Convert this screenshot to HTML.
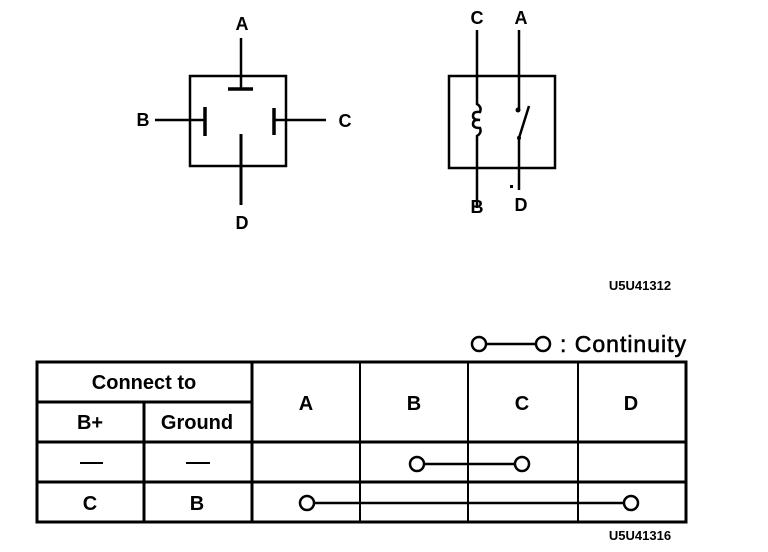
<!DOCTYPE html>
<html><head><meta charset="utf-8"><style>
html,body{margin:0;padding:0;background:#fff;width:768px;height:552px;overflow:hidden}
svg text{font-family:"Liberation Sans",Arial,sans-serif;font-weight:bold;fill:#000}
</style></head><body>
<svg width="768" height="552" viewBox="0 0 768 552" xmlns="http://www.w3.org/2000/svg">
<g stroke="#000" fill="none" stroke-width="2.5">
<rect x="190" y="76" width="96" height="90"/>
<line x1="241" y1="38" x2="241" y2="88"/>
<line x1="228" y1="89" x2="253" y2="89" stroke-width="3.5"/>
<line x1="155" y1="120" x2="205" y2="120"/>
<line x1="205" y1="107" x2="205" y2="136" stroke-width="3.5"/>
<line x1="274" y1="120" x2="326" y2="120"/>
<line x1="274" y1="108" x2="274" y2="135" stroke-width="3.5"/>
<line x1="241" y1="134" x2="241" y2="205" stroke-width="3"/>
<rect x="449" y="76" width="106" height="92"/>
<path d="M477 30 V104 q5 3 3 8 q-7 -1 -7 4 q0 4 7 4 q-7 -1 -7 4 q0 4 7 4 q2 5 -3 8 V208"/>
<line x1="519" y1="30" x2="519" y2="110"/>
<line x1="519" y1="138" x2="529" y2="106"/>
<line x1="519" y1="136" x2="519" y2="190"/>
</g>
<circle cx="518" cy="110" r="2.5"/>
<circle cx="519" cy="138" r="2"/>
<rect x="510" y="185" width="3" height="3"/>
<text x="242" y="30" font-size="18" text-anchor="middle">A</text>
<text x="143" y="126" font-size="18" text-anchor="middle">B</text>
<text x="345" y="127" font-size="18" text-anchor="middle">C</text>
<text x="242" y="229" font-size="18" text-anchor="middle">D</text>
<text x="477" y="24" font-size="18" text-anchor="middle">C</text>
<text x="521" y="24" font-size="18" text-anchor="middle">A</text>
<text x="477" y="213" font-size="18" text-anchor="middle">B</text>
<text x="521" y="211" font-size="18" text-anchor="middle">D</text>
<text x="640" y="290" font-size="13" text-anchor="middle">U5U41312</text>
<g stroke="#000" fill="#fff" stroke-width="2.5">
<line x1="486" y1="344" x2="536" y2="344"/>
<circle cx="479" cy="344" r="7"/>
<circle cx="543" cy="344" r="7"/>
</g>
<text x="560" y="352" font-size="23" textLength="126" style="font-weight:normal;stroke:#000;stroke-width:0.6">: Continuity</text>
<g stroke="#000" fill="none" stroke-width="3">
<rect x="37" y="362" width="649" height="160"/>
<line x1="37" y1="402" x2="252" y2="402"/>
<line x1="37" y1="442" x2="686" y2="442"/>
<line x1="37" y1="482" x2="686" y2="482"/>
<line x1="144" y1="402" x2="144" y2="522"/>
<line x1="252" y1="362" x2="252" y2="522"/>
<line x1="360" y1="362" x2="360" y2="522" stroke-width="2"/>
<line x1="468" y1="362" x2="468" y2="522" stroke-width="2"/>
<line x1="578" y1="362" x2="578" y2="522" stroke-width="2"/>
<line x1="80" y1="463" x2="103" y2="463" stroke-width="2"/>
<line x1="186" y1="463" x2="210" y2="463" stroke-width="2"/>
</g>
<text x="144" y="389" font-size="20" text-anchor="middle">Connect to</text>
<text x="90" y="429" font-size="20" text-anchor="middle">B+</text>
<text x="197" y="429" font-size="20" text-anchor="middle">Ground</text>
<text x="306" y="410" font-size="20" text-anchor="middle">A</text>
<text x="414" y="410" font-size="20" text-anchor="middle">B</text>
<text x="522" y="410" font-size="20" text-anchor="middle">C</text>
<text x="631" y="410" font-size="20" text-anchor="middle">D</text>
<text x="90" y="510" font-size="20" text-anchor="middle">C</text>
<text x="197" y="510" font-size="20" text-anchor="middle">B</text>
<g stroke="#000" fill="#fff" stroke-width="2.5">
<line x1="417" y1="464" x2="522" y2="464"/>
<circle cx="417" cy="464" r="7"/>
<circle cx="522" cy="464" r="7"/>
<line x1="307" y1="503" x2="631" y2="503"/>
<circle cx="307" cy="503" r="7"/>
<circle cx="631" cy="503" r="7"/>
</g>
<text x="640" y="540" font-size="13" text-anchor="middle">U5U41316</text>
</svg>
</body></html>
